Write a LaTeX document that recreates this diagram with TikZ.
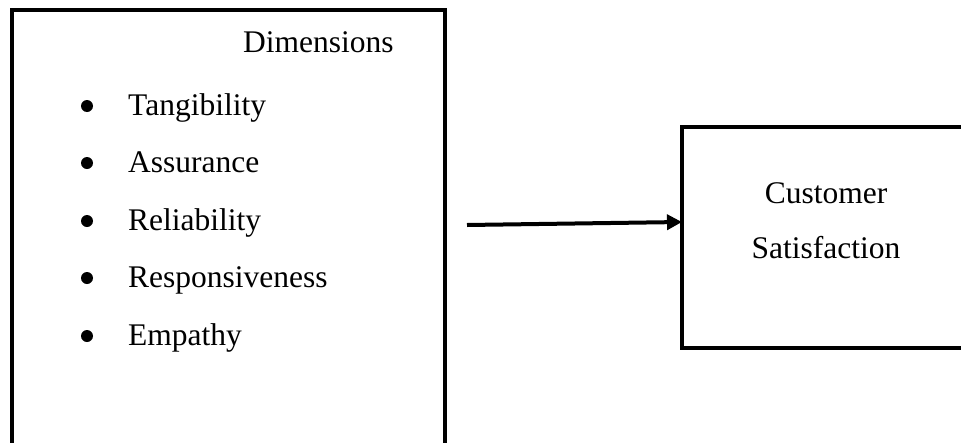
\documentclass[tikz,border=0pt]{standalone}
\usepackage{fontspec}
\setmainfont{Liberation Serif}
\usetikzlibrary{arrows.meta}
\begin{document}
\begin{tikzpicture}[x=1pt,y=-1pt,
  frame/.style={draw=black,line width=4pt,rectangle,inner sep=0pt,outer sep=0pt,anchor=north west},
  lbl/.style={font=\fontsize{31.5}{36}\selectfont,inner sep=0pt,anchor=base west},
  ctr/.style={font=\fontsize{31.5}{36}\selectfont,inner sep=0pt,anchor=base},
  bul/.style={circle,fill=black,inner sep=0pt,minimum size=12pt},
  link/.style={line width=4pt,-{Triangle[length=15pt,width=15pt]}}]
\useasboundingbox (0,0) rectangle (961,442);
\clip (0,0) rectangle (961,442);
\fill[white] (0,0) rectangle (961,442);
% boxes
\node[frame,minimum width=433pt,minimum height=470pt] (dimbox) at (12,9.5) {};
\node[frame,minimum width=330pt,minimum height=221pt] (csbox) at (682,127) {};
% left box text
\node[lbl] (dimtitle) at (243,52) {Dimensions};
\node[bul] (b1) at (87,106) {};
\node[lbl] (t1) at (128,115) {Tangibility};
\node[bul] (b2) at (87,163) {};
\node[lbl] (t2) at (128,172) {Assurance};
\node[bul] (b3) at (87,221) {};
\node[lbl] (t3) at (128,230) {Reliability};
\node[bul] (b4) at (87,278) {};
\node[lbl] (t4) at (128,287) {Responsiveness};
\node[bul] (b5) at (87,336) {};
\node[lbl] (t5) at (128,345) {Empathy};
% right box text
\node[ctr] (cs1) at (826,203) {Customer};
\node[ctr] (cs2) at (826,258) {Satisfaction};
% arrow
\coordinate (src) at (467,225);
\draw[link] (src) -- ([yshift=-95pt]csbox.north west);
\end{tikzpicture}
\end{document}
